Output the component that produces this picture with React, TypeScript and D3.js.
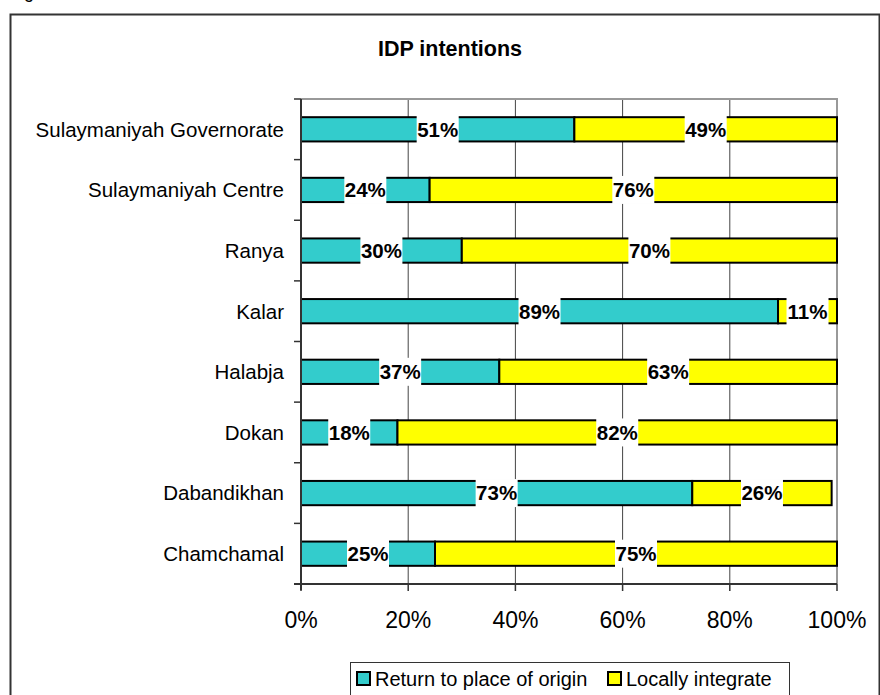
import { useRef, useEffect } from 'react';
import * as d3 from 'd3';

const categories = [
  'Sulaymaniyah Governorate',
  'Sulaymaniyah Centre',
  'Ranya',
  'Kalar',
  'Halabja',
  'Dokan',
  'Dabandikhan',
  'Chamchamal',
];
const returnValues = [51, 24, 30, 89, 37, 18, 73, 25];
const integrateValues = [49, 76, 70, 11, 63, 82, 26, 75];
const seriesNames = ['Return to place of origin', 'Locally integrate'];
const seriesColors = ['#33CCCC', '#FFFF00'];
const xTicks = [0, 20, 40, 60, 80, 100];

const FONT = 'Arial, "Liberation Sans", sans-serif';

const App = () => {
  const svgRef = useRef<SVGSVGElement>(null);

  useEffect(() => {
    const svg = d3.select(svgRef.current);
    svg.selectAll('*').remove();
    const width = 880;
    const height = 695;
    const margin = { top: 99, right: 43, bottom: 111, left: 301 };

    // outer frame and the cut-off caption above it
    svg.append('text')
      .attr('x', 24).attr('y', -2)
      .attr('font-family', FONT).attr('font-size', 18)
      .text('g');
    svg.append('rect')
      .attr('x', 10.5).attr('y', 14.5)
      .attr('width', 869).attr('height', 700)
      .attr('fill', 'none').attr('stroke', '#333').attr('stroke-width', 2);

    svg.append('text')
      .attr('x', 450).attr('y', 56)
      .attr('text-anchor', 'middle')
      .attr('font-family', FONT).attr('font-weight', 'bold').attr('font-size', 21.5)
      .text('IDP intentions');

    const x = d3.scaleLinear()
      .domain([0, 100])
      .range([margin.left, width - margin.right]);

    const y = d3.scaleBand()
      .domain(categories)
      .range([margin.top, height - margin.bottom])
      .paddingInner(0.6)
      .paddingOuter(0.3);

    const step = y.step();
    const bandTop = (c: string) => (y(c) as number) - step * 0.3;

    // grid lines
    svg.append('g')
      .selectAll('line')
      .data(xTicks.slice(1, -1))
      .join('line')
      .attr('x1', d => x(d)).attr('x2', d => x(d))
      .attr('y1', margin.top).attr('y2', height - margin.bottom)
      .attr('stroke', '#444').attr('stroke-width', 1);

    // plot frame top + right
    svg.append('path')
      .attr('d', `M${margin.left},${margin.top}H${x(100)}V${height - margin.bottom}`)
      .attr('fill', 'none').attr('stroke', '#999').attr('stroke-width', 2);

    // stacked data
    const rows = categories.map((c, i) => ({ c, a: returnValues[i], b: integrateValues[i] }));
    const segs = rows.flatMap(r => [
      { c: r.c, x0: 0, x1: r.a, v: r.a, s: 0 },
      { c: r.c, x0: r.a, x1: r.a + r.b, v: r.b, s: 1 },
    ]);

    svg.append('g')
      .selectAll('rect')
      .data(segs)
      .join('rect')
      .attr('x', d => x(d.x0))
      .attr('y', d => y(d.c) as number)
      .attr('width', d => x(d.x1) - x(d.x0))
      .attr('height', y.bandwidth())
      .attr('fill', d => seriesColors[d.s])
      .attr('stroke', '#000').attr('stroke-width', 2);

    // labels with white background
    const labels = svg.append('g')
      .selectAll('g')
      .data(segs)
      .join('g')
      .attr('transform', d => `translate(${(x(d.x0) + x(d.x1)) / 2},${(y(d.c) as number) + y.bandwidth() / 2})`);
    labels.append('rect')
      .attr('x', -21).attr('y', -14)
      .attr('width', 42).attr('height', 28)
      .attr('fill', '#fff');
    labels.append('text')
      .attr('text-anchor', 'middle')
      .attr('dy', '0.36em')
      .attr('font-family', FONT).attr('font-weight', 'bold').attr('font-size', 20.5)
      .text(d => `${d.v}%`);

    // y axis
    const yAxis = svg.append('g');
    yAxis.append('line')
      .attr('x1', margin.left).attr('x2', margin.left)
      .attr('y1', margin.top).attr('y2', height - margin.bottom + 6)
      .attr('stroke', '#333').attr('stroke-width', 2);
    yAxis.selectAll('line.tick')
      .data([...categories.map(bandTop), height - margin.bottom])
      .join('line')
      .attr('class', 'tick')
      .attr('x1', margin.left - 7).attr('x2', margin.left)
      .attr('y1', d => d).attr('y2', d => d)
      .attr('stroke', '#333').attr('stroke-width', 1.5);
    yAxis.selectAll('text')
      .data(categories)
      .join('text')
      .attr('x', 284)
      .attr('y', d => (y(d) as number) + y.bandwidth() / 2)
      .attr('dy', '0.36em')
      .attr('text-anchor', 'end')
      .attr('font-family', FONT).attr('font-size', 20.5)
      .text(d => d);

    // x axis
    const xAxis = svg.append('g');
    xAxis.append('line')
      .attr('x1', margin.left - 7).attr('x2', x(100))
      .attr('y1', height - margin.bottom).attr('y2', height - margin.bottom)
      .attr('stroke', '#333').attr('stroke-width', 2);
    xAxis.selectAll('line.tick')
      .data(xTicks)
      .join('line')
      .attr('class', 'tick')
      .attr('x1', d => x(d)).attr('x2', d => x(d))
      .attr('y1', height - margin.bottom).attr('y2', height - margin.bottom + 7)
      .attr('stroke', '#333').attr('stroke-width', 1.5);
    xAxis.selectAll('text')
      .data(xTicks)
      .join('text')
      .attr('x', d => x(d))
      .attr('y', 628)
      .attr('text-anchor', 'middle')
      .attr('font-family', FONT).attr('font-size', 23)
      .text(d => `${d}%`);

    // legend
    const legend = svg.append('g');
    legend.append('rect')
      .attr('x', 350.5).attr('y', 662.5)
      .attr('width', 439).attr('height', 50)
      .attr('fill', '#fff').attr('stroke', '#333').attr('stroke-width', 1);
    const items = [
      { name: seriesNames[0], color: seriesColors[0], x: 357 },
      { name: seriesNames[1], color: seriesColors[1], x: 608 },
    ];
    const li = legend.selectAll('g').data(items).join('g')
      .attr('transform', d => `translate(${d.x},672)`);
    li.append('rect')
      .attr('width', 13).attr('height', 13)
      .attr('fill', d => d.color)
      .attr('stroke', '#000').attr('stroke-width', 2);
    li.append('text')
      .attr('x', 18).attr('y', 6.5).attr('dy', '0.36em')
      .attr('font-family', FONT).attr('font-size', 20)
      .text(d => d.name);
  }, []);

  return (
    <svg
      ref={svgRef}
      width="880"
      height="695"
      style={{ position: 'absolute', left: 0, top: 0, background: '#fff' }}
    ></svg>
  );
};

export default App;
